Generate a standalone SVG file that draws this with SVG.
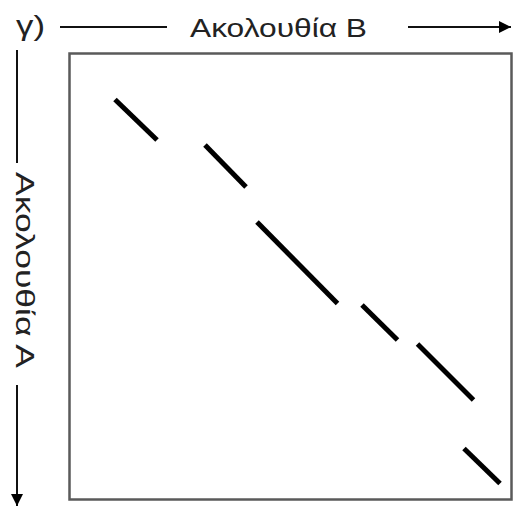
<svg xmlns="http://www.w3.org/2000/svg" width="514" height="507" viewBox="0 0 514 507">
<style>
.lbl{font-family:"Liberation Sans",Arial,sans-serif;font-size:26px;fill:#222}
.ax{stroke:#111;stroke-width:2;fill:none}
.seg{stroke:#000;stroke-width:5;stroke-linecap:butt}
</style>
<defs>
<marker id="ah" viewBox="0 0 12 12" refX="12" refY="6" markerWidth="12" markerHeight="12" markerUnits="userSpaceOnUse" orient="auto">
<path d="M0,0 L12,6 L0,12 Z" fill="#000"/>
</marker>
</defs>
<rect width="514" height="507" fill="#fff"/>
<g id="label-gamma"><text class="lbl" x="16" y="35" style="font-size:28px" textLength="29" lengthAdjust="spacingAndGlyphs">γ)</text></g>
<g id="axis-B">
<text class="lbl" x="190" y="37" textLength="177" lengthAdjust="spacingAndGlyphs">Ακολουθία Β</text>
</g>
<g id="axis-A">
<text class="lbl" transform="translate(16,172) rotate(90)" x="0" y="0" textLength="196" lengthAdjust="spacingAndGlyphs">Ακολουθία Α</text>
</g>
<g id="matrix">
<rect x="69.5" y="53.5" width="442" height="446" fill="none" stroke="#5a5a5a" stroke-width="2.5"/>
</g>
<g id="connectors">
<line class="ax" x1="60" y1="27" x2="167" y2="27"/>
<line class="ax" x1="408" y1="27" x2="511" y2="27" marker-end="url(#ah)"/>
<line class="ax" x1="17" y1="50" x2="17" y2="163"/>
<line class="ax" x1="17" y1="385" x2="17" y2="506" marker-end="url(#ah)"/>
</g>
<g id="diagonal">
<line class="seg" x1="115" y1="99.5" x2="157" y2="140"/>
<line class="seg" x1="205" y1="145" x2="246" y2="187"/>
<line class="seg" x1="257" y1="222" x2="337.5" y2="303.5"/>
<line class="seg" x1="362" y1="305" x2="397.5" y2="340"/>
<line class="seg" x1="417.5" y1="344" x2="473.5" y2="400"/>
<line class="seg" x1="464" y1="448.5" x2="500" y2="483.5"/>
</g>
</svg>
